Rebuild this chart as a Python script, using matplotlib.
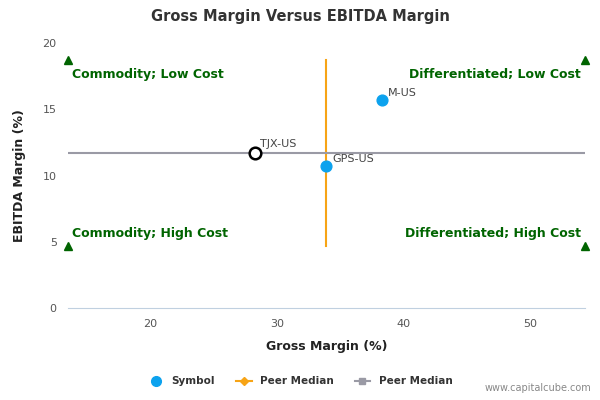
import matplotlib
matplotlib.use("Agg")
import matplotlib.pyplot as plt
from matplotlib.lines import Line2D

symbols = ["M-US", "GPS-US"]
gross = [38.3, 33.9]
ebitda = [15.7, 10.7]
subject = "TJX-US"
subject_x = 28.3
subject_y = 11.7
peer_x = 33.9
peer_y = 11.7
xlim = (13.5, 54.3)
ylim = (0, 20)
quad_y = (4.7, 18.7)

fig = plt.figure(figsize=(6, 4), dpi=100)
ax = fig.add_axes([0.113, 0.23, 0.862, 0.6625])
ax.set_xlim(*xlim); ax.set_ylim(*ylim)
ax.plot([peer_x, peer_x], list(quad_y), color="#f7a416", lw=1.5, zorder=2)
ax.plot(list(xlim), [peer_y, peer_y], color="#9a9aa5", lw=1.5, zorder=2)
ax.scatter(gross, ebitda, s=60, color="#0ca2ee", zorder=3)
for s, x, y in zip(symbols, gross, ebitda):
    ax.annotate(s, (x, y), xytext=(4, 3), textcoords="offset points", fontsize=8, color="#444444")
ax.scatter([subject_x], [subject_y], s=70, facecolor="white", edgecolor="black", lw=1.8, zorder=4)
ax.annotate(subject, (subject_x, subject_y), xytext=(3, 4), textcoords="offset points", fontsize=8, color="#444444")

green = "#006400"
for xx in xlim:
    for yy in quad_y:
        ax.plot([xx], [yy], marker="^", color=green, ms=6, clip_on=False, zorder=5)
ax.text(xlim[0] + 0.3, 18.1, "Commodity; Low Cost", color=green, fontsize=9, fontweight="bold", va="top")
ax.text(xlim[1] - 0.3, 18.1, "Differentiated; Low Cost", color=green, fontsize=9, fontweight="bold", va="top", ha="right")
ax.text(xlim[0] + 0.3, 5.1, "Commodity; High Cost", color=green, fontsize=9, fontweight="bold", va="bottom")
ax.text(xlim[1] - 0.3, 5.1, "Differentiated; High Cost", color=green, fontsize=9, fontweight="bold", va="bottom", ha="right")

ax.set_xticks([20, 30, 40, 50]); ax.set_yticks([0, 5, 10, 15, 20])
ax.tick_params(labelsize=8, colors="#555555", length=0, pad=8)
for sp in ["top", "right"]:
    ax.spines[sp].set_visible(False)
ax.spines["left"].set_visible(False)
ax.spines["bottom"].set_color("#c0d0e0")
ax.set_xlabel("Gross Margin (%)", fontsize=9, fontweight="bold", color="#222222", labelpad=8)
ax.set_ylabel("EBITDA Margin (%)", fontsize=9, fontweight="bold", color="#222222", labelpad=12)
fig.text(0.5, 0.96, "Gross Margin Versus EBITDA Margin", ha="center", va="center", fontsize=10.5, fontweight="bold", color="#333333")

handles = [Line2D([], [], marker="o", ls="", color="#0ca2ee", ms=7),
           Line2D([], [], marker="D", color="#f7a416", ms=4, lw=1.5),
           Line2D([], [], marker="s", color="#9a9aa5", ms=5, lw=1.5)]
fig.legend(handles, ["Symbol", "Peer Median", "Peer Median"], loc="center", bbox_to_anchor=(0.5, 0.047),
           ncol=3, frameon=False, prop={"size": 7.5, "weight": "bold"}, labelcolor="#333333", handlelength=1.5)
fig.text(0.985, 0.022, "www.capitalcube.com", ha="right", fontsize=7, color="#888888")
fig.savefig("out.png", dpi=100)
